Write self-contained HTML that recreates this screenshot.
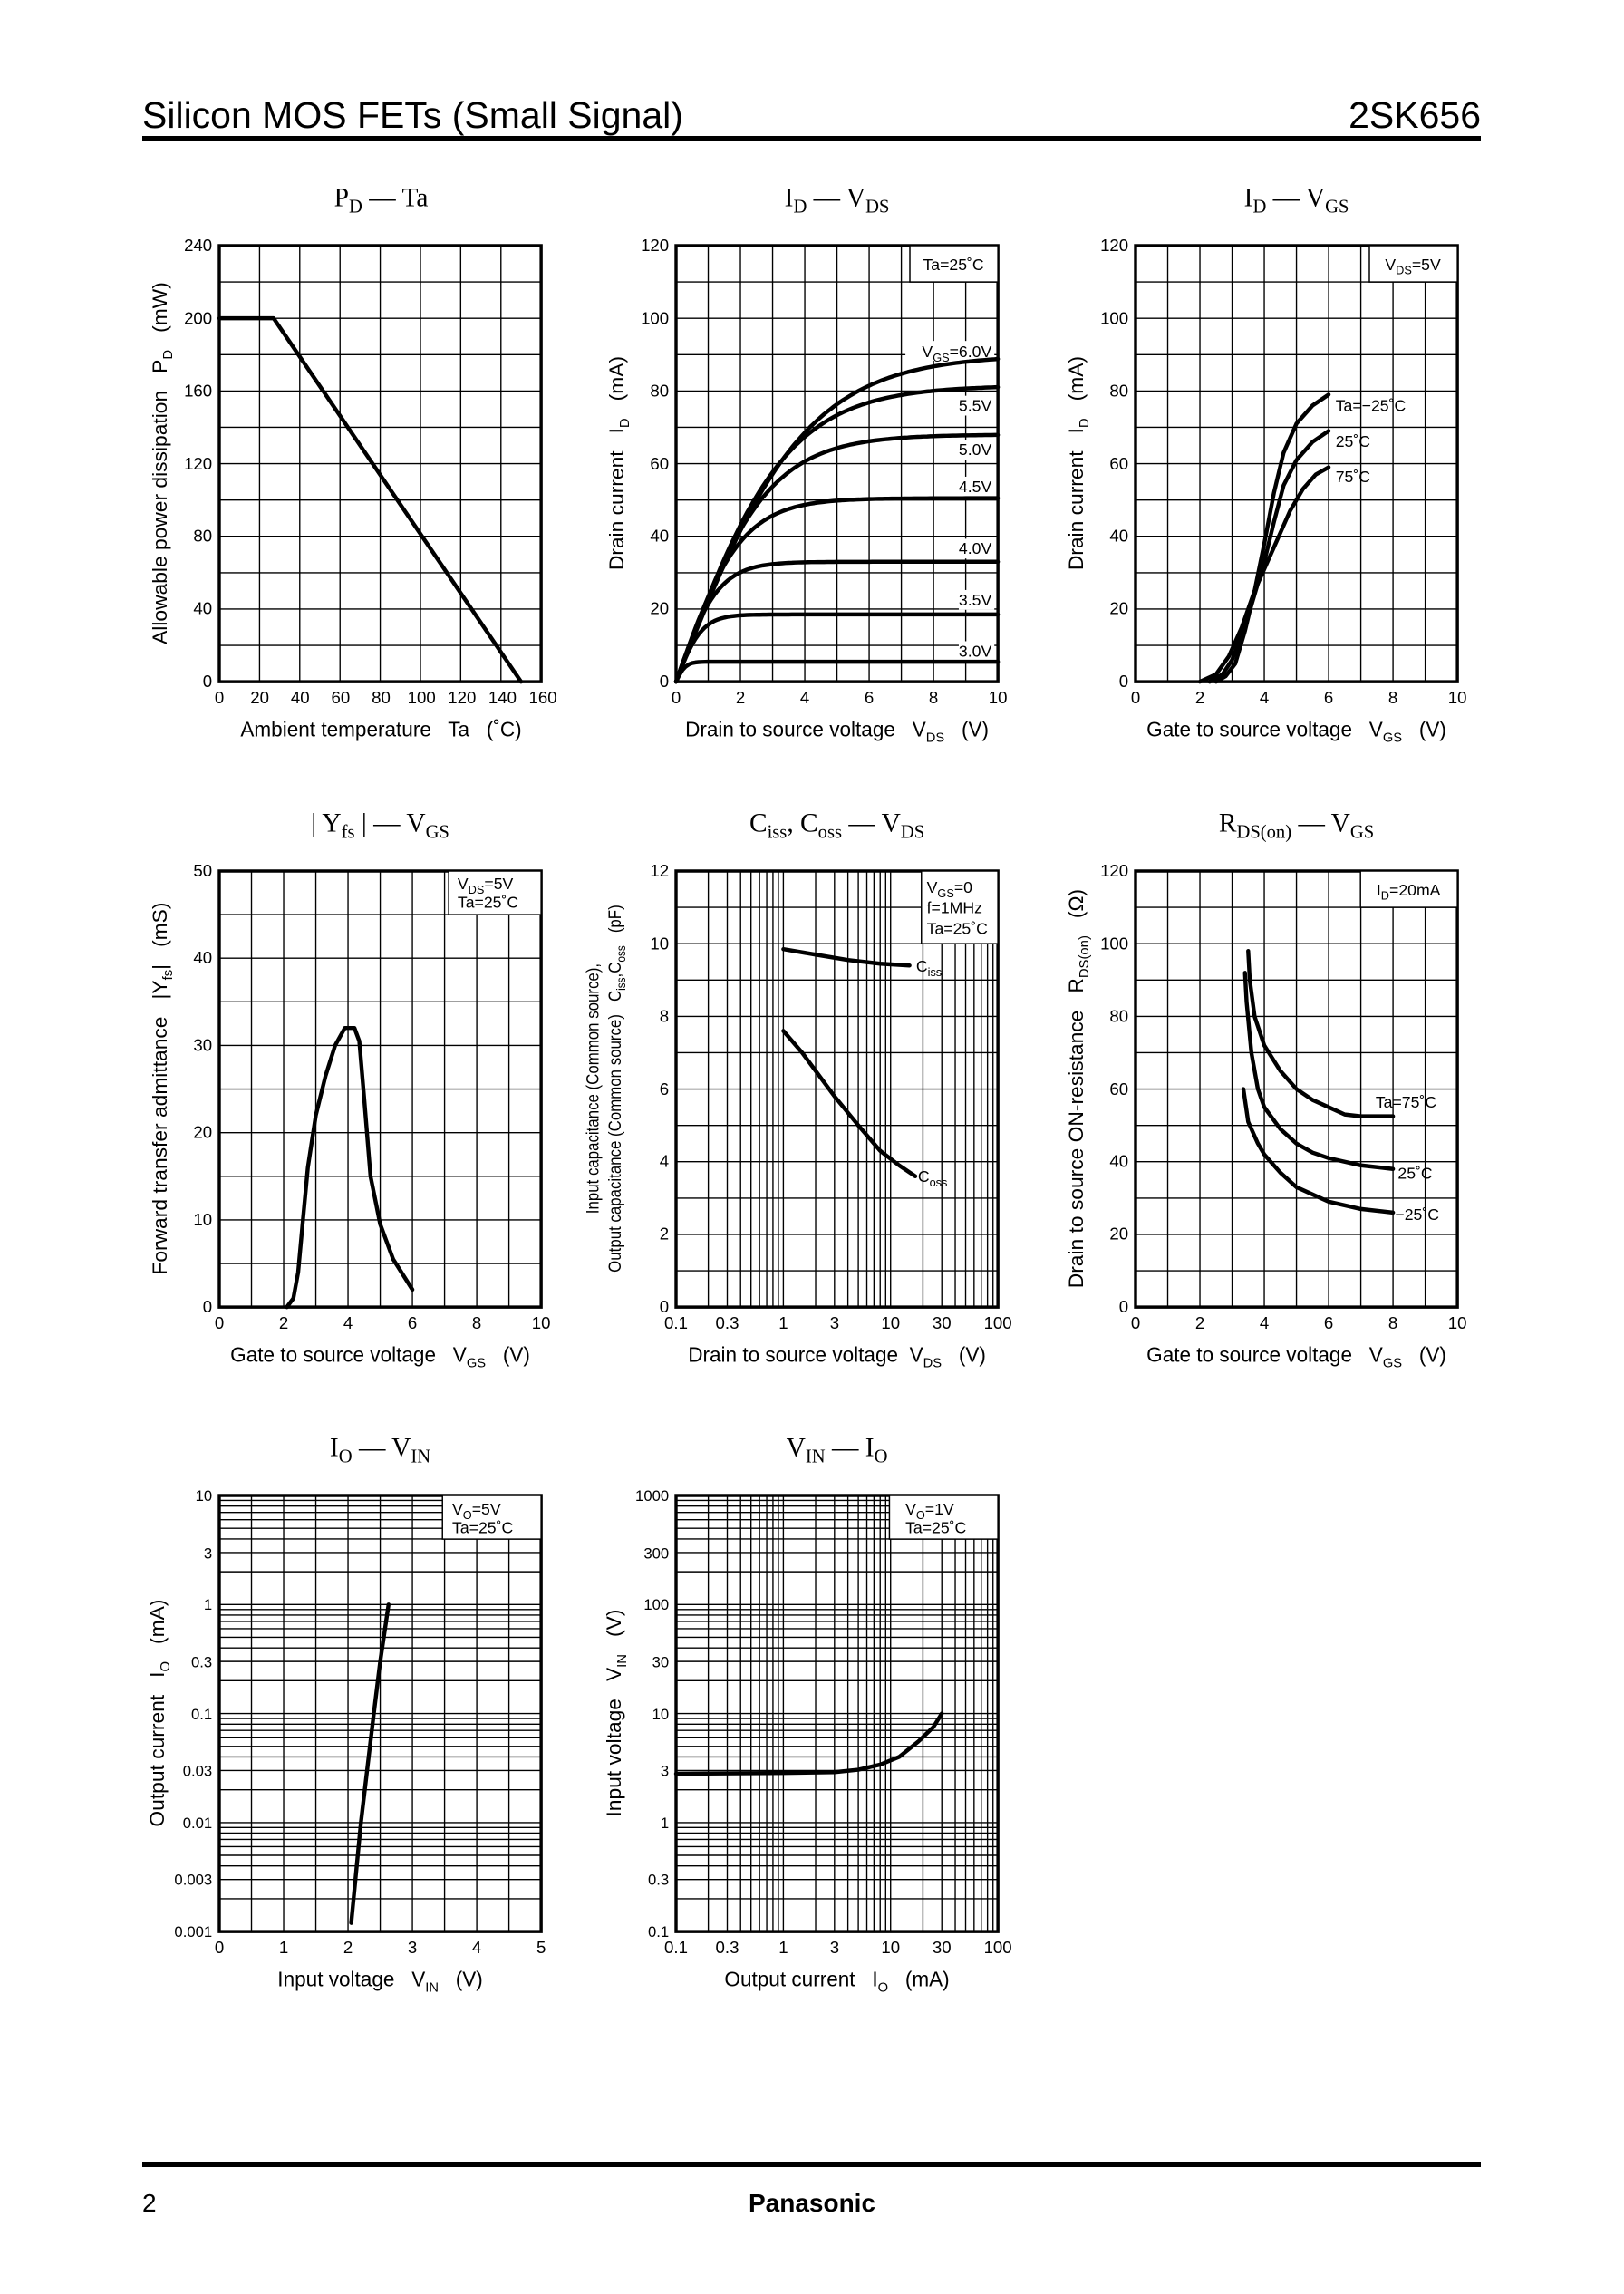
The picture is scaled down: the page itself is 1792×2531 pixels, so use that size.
<!DOCTYPE html>
<html><head><meta charset="utf-8"><style>
html,body{margin:0;padding:0;background:#fff}
svg{display:block}
.g path{fill:none;stroke:#000;stroke-linecap:butt}
.c path{fill:none;stroke:#000;stroke-width:4.5;stroke-linejoin:round;stroke-linecap:round}
text{font-family:"Liberation Sans",sans-serif;fill:#000}
.t{font-size:19px}
.ax{font-size:23px}
.ti{font-family:"Liberation Serif",serif;font-size:30px}
.in{font-size:18px}
.ib{fill:#fff;stroke:#000;stroke-width:1.5}
</style></head><body>
<svg width="1792" height="2531" viewBox="0 0 1792 2531" xmlns="http://www.w3.org/2000/svg">
<text x="157" y="141" style="font-size:41px">Silicon MOS FETs (Small Signal)</text>
<text x="1634" y="141" style="font-size:41px" text-anchor="end">2SK656</text>
<rect x="157" y="150" width="1477" height="6"/>
<rect x="157" y="2385" width="1477" height="6"/>
<text x="157" y="2440" style="font-size:28px">2</text>
<text x="896" y="2440" style="font-size:28px;font-weight:bold" text-anchor="middle">Panasonic</text>

<!-- Chart A -->
<g transform="translate(242,271) scale(0.981,0.992)">
<g id="gA" class="g"></g><g id="cA" class="c"></g>
<g class="t" text-anchor="end"><text x="-8" y="491">0</text><text x="-8" y="410">40</text><text x="-8" y="329">80</text><text x="-8" y="249">120</text><text x="-8" y="168">160</text><text x="-8" y="87">200</text><text x="-8" y="6">240</text></g>
<g class="t" text-anchor="middle"><text x="0" y="509">0</text><text x="45.5" y="509">20</text><text x="91" y="509">40</text><text x="136.5" y="509">60</text><text x="182" y="509">80</text><text x="227.5" y="509">100</text><text x="273" y="509">120</text><text x="318.5" y="509">140</text><text x="364" y="509">160</text></g>
<text class="ax" x="182" y="546" text-anchor="middle">Ambient temperature &#160; Ta &#160; (˚C)</text>
<text class="ax" transform="translate(-59,242) rotate(-90)" text-anchor="middle">Allowable power dissipation &#160; P<tspan font-size="15" dy="6">D</tspan><tspan dy="-6"> &#160; (mW)</tspan></text>
<text class="ti" x="182" y="-44" text-anchor="middle">P<tspan font-size="21" dy="7">D</tspan><tspan dy="-7"> — Ta</tspan></text>
</g>

<!-- Chart B -->
<g transform="translate(746,271) scale(0.981,0.992)">
<g id="gB" class="g"></g>
<rect class="ib" x="263" y="0" width="99" height="40.4"/><text class="in" x="312" y="27" text-anchor="middle">Ta=25˚C</text>
<g class="in" text-anchor="end">
<rect x="258" y="106" width="100" height="22" fill="#fff"/><text x="355" y="124">V<tspan font-size="13" dy="5">GS</tspan><tspan dy="-5">=6.0V</tspan></text>
<rect x="318" y="167" width="40" height="22" fill="#fff"/><text x="355" y="184">5.5V</text>
<rect x="318" y="216" width="40" height="22" fill="#fff"/><text x="355" y="233">5.0V</text>
<rect x="318" y="257" width="40" height="22" fill="#fff"/><text x="355" y="274">4.5V</text>
<rect x="318" y="326" width="40" height="22" fill="#fff"/><text x="355" y="343">4.0V</text>
<rect x="318" y="383" width="40" height="22" fill="#fff"/><text x="355" y="400">3.5V</text>
<rect x="318" y="440" width="40" height="22" fill="#fff"/><text x="355" y="457">3.0V</text>
</g>
<g id="cB" class="c"></g>
<g class="t" text-anchor="end"><text x="-8" y="491">0</text><text x="-8" y="410">20</text><text x="-8" y="329">40</text><text x="-8" y="249">60</text><text x="-8" y="168">80</text><text x="-8" y="87">100</text><text x="-8" y="6">120</text></g>
<g class="t" text-anchor="middle"><text x="0" y="509">0</text><text x="72.4" y="509">2</text><text x="144.8" y="509">4</text><text x="217.2" y="509">6</text><text x="289.6" y="509">8</text><text x="362" y="509">10</text></g>
<text class="ax" x="181" y="546" text-anchor="middle">Drain to source voltage &#160; V<tspan font-size="15" dy="6">DS</tspan><tspan dy="-6"> &#160; (V)</tspan></text>
<text class="ax" transform="translate(-59,242) rotate(-90)" text-anchor="middle">Drain current &#160; I<tspan font-size="15" dy="6">D</tspan><tspan dy="-6"> &#160; (mA)</tspan></text>
<text class="ti" x="181" y="-44" text-anchor="middle">I<tspan font-size="21" dy="7">D</tspan><tspan dy="-7"> — V</tspan><tspan font-size="21" dy="7">DS</tspan></text>
</g>

<!-- Chart C -->
<g transform="translate(1253,271) scale(0.981,0.992)">
<g id="gC" class="g"></g>
<rect class="ib" x="263" y="0" width="99" height="40.4"/><text class="in" x="312" y="27" text-anchor="middle">V<tspan font-size="13" dy="5">DS</tspan><tspan dy="-5">=5V</tspan></text>
<g id="cC" class="c"></g>
<g class="in"><text x="225" y="184">Ta=−25˚C</text><text x="225" y="224">25˚C</text><text x="225" y="263">75˚C</text></g>
<g class="t" text-anchor="end"><text x="-8" y="491">0</text><text x="-8" y="410">20</text><text x="-8" y="329">40</text><text x="-8" y="249">60</text><text x="-8" y="168">80</text><text x="-8" y="87">100</text><text x="-8" y="6">120</text></g>
<g class="t" text-anchor="middle"><text x="0" y="509">0</text><text x="72.4" y="509">2</text><text x="144.8" y="509">4</text><text x="217.2" y="509">6</text><text x="289.6" y="509">8</text><text x="362" y="509">10</text></g>
<text class="ax" x="181" y="546" text-anchor="middle">Gate to source voltage &#160; V<tspan font-size="15" dy="6">GS</tspan><tspan dy="-6"> &#160; (V)</tspan></text>
<text class="ax" transform="translate(-59,242) rotate(-90)" text-anchor="middle">Drain current &#160; I<tspan font-size="15" dy="6">D</tspan><tspan dy="-6"> &#160; (mA)</tspan></text>
<text class="ti" x="181" y="-44" text-anchor="middle">I<tspan font-size="21" dy="7">D</tspan><tspan dy="-7"> — V</tspan><tspan font-size="21" dy="7">GS</tspan></text>
</g>

<!-- Chart D -->
<g transform="translate(242,961) scale(0.981,0.992)">
<g id="gD" class="g"></g>
<rect class="ib" x="258" y="0" width="104" height="48.5"/><text class="in" x="268" y="20">V<tspan font-size="13" dy="5">DS</tspan><tspan dy="-5">=5V</tspan></text><text class="in" x="268" y="41">Ta=25˚C</text>
<g id="cD" class="c"></g>
<g class="t" text-anchor="end"><text x="-8" y="491">0</text><text x="-8" y="394">10</text><text x="-8" y="297">20</text><text x="-8" y="200">30</text><text x="-8" y="103">40</text><text x="-8" y="6">50</text></g>
<g class="t" text-anchor="middle"><text x="0" y="509">0</text><text x="72.4" y="509">2</text><text x="144.8" y="509">4</text><text x="217.2" y="509">6</text><text x="289.6" y="509">8</text><text x="362" y="509">10</text></g>
<text class="ax" x="181" y="546" text-anchor="middle">Gate to source voltage &#160; V<tspan font-size="15" dy="6">GS</tspan><tspan dy="-6"> &#160; (V)</tspan></text>
<text class="ax" transform="translate(-59,242) rotate(-90)" text-anchor="middle">Forward transfer admittance &#160; |Y<tspan font-size="15" dy="6">fs</tspan><tspan dy="-6">| &#160; (mS)</tspan></text>
<text class="ti" x="181" y="-44" text-anchor="middle">| Y<tspan font-size="21" dy="7">fs</tspan><tspan dy="-7"> | — V</tspan><tspan font-size="21" dy="7">GS</tspan></text>
</g>

<!-- Chart E -->
<g transform="translate(746,961) scale(0.981,0.992)">
<g id="gE" class="g"></g>
<rect class="ib" x="276" y="0" width="86" height="80.8"/>
<g class="in"><text x="282" y="24">V<tspan font-size="13" dy="5">GS</tspan><tspan dy="-5">=0</tspan></text><text x="282" y="47">f=1MHz</text><text x="282" y="70">Ta=25˚C</text></g>
<g id="cE" class="c"></g>
<g class="in"><text x="270" y="112">C<tspan font-size="13" dy="5">iss</tspan></text><text x="272" y="346">C<tspan font-size="13" dy="5">oss</tspan></text></g>
<g class="t" text-anchor="end"><text x="-8" y="491">0</text><text x="-8" y="410">2</text><text x="-8" y="329">4</text><text x="-8" y="249">6</text><text x="-8" y="168">8</text><text x="-8" y="87">10</text><text x="-8" y="6">12</text></g>
<g class="t" text-anchor="middle"><text x="0" y="509">0.1</text><text x="57.6" y="509">0.3</text><text x="120.7" y="509">1</text><text x="178.3" y="509">3</text><text x="241.3" y="509">10</text><text x="298.9" y="509">30</text><text x="362" y="509">100</text></g>
<text class="ax" x="181" y="546" text-anchor="middle">Drain to source voltage &#160;V<tspan font-size="15" dy="6">DS</tspan><tspan dy="-6"> &#160; (V)</tspan></text>
<text class="ax" style="font-size:20px" transform="translate(-87,242) rotate(-90) scale(0.85,1)" text-anchor="middle">Input capacitance (Common source),</text>
<text class="ax" style="font-size:20px" transform="translate(-62,242) rotate(-90) scale(0.85,1)" text-anchor="middle">Output capacitance (Common source) &#160; C<tspan font-size="14" dy="5">iss</tspan><tspan dy="-5">,C</tspan><tspan font-size="14" dy="5">oss</tspan><tspan dy="-5"> &#160; (pF)</tspan></text>
<text class="ti" x="181" y="-44" text-anchor="middle">C<tspan font-size="21" dy="7">iss</tspan><tspan dy="-7">, C</tspan><tspan font-size="21" dy="7">oss</tspan><tspan dy="-7"> — V</tspan><tspan font-size="21" dy="7">DS</tspan></text>
</g>

<!-- Chart F -->
<g transform="translate(1253,961) scale(0.981,0.992)">
<g id="gF" class="g"></g>
<rect class="ib" x="253" y="0" width="109" height="40.4"/><text class="in" x="307" y="27" text-anchor="middle">I<tspan font-size="13" dy="5">D</tspan><tspan dy="-5">=20mA</tspan></text>
<g id="cF" class="c"></g>
<g class="in"><text x="270" y="263">Ta=75˚C</text><text x="295" y="342">25˚C</text><text x="292" y="388">−25˚C</text></g>
<g class="t" text-anchor="end"><text x="-8" y="491">0</text><text x="-8" y="410">20</text><text x="-8" y="329">40</text><text x="-8" y="249">60</text><text x="-8" y="168">80</text><text x="-8" y="87">100</text><text x="-8" y="6">120</text></g>
<g class="t" text-anchor="middle"><text x="0" y="509">0</text><text x="72.4" y="509">2</text><text x="144.8" y="509">4</text><text x="217.2" y="509">6</text><text x="289.6" y="509">8</text><text x="362" y="509">10</text></g>
<text class="ax" x="181" y="546" text-anchor="middle">Gate to source voltage &#160; V<tspan font-size="15" dy="6">GS</tspan><tspan dy="-6"> &#160; (V)</tspan></text>
<text class="ax" transform="translate(-59,242) rotate(-90)" text-anchor="middle">Drain to source ON-resistance &#160; R<tspan font-size="15" dy="6">DS(on)</tspan><tspan dy="-6"> &#160; (Ω)</tspan></text>
<text class="ti" x="181" y="-44" text-anchor="middle">R<tspan font-size="21" dy="7">DS(on)</tspan><tspan dy="-7"> — V</tspan><tspan font-size="21" dy="7">GS</tspan></text>
</g>

<!-- Chart G -->
<g transform="translate(242,1650) scale(0.981,0.992)">
<g id="gG" class="g"></g>
<rect class="ib" x="251" y="0" width="111" height="48.5"/><text class="in" x="262" y="21">V<tspan font-size="13" dy="5">O</tspan><tspan dy="-5">=5V</tspan></text><text class="in" x="262" y="42">Ta=25˚C</text>
<g id="cG" class="c"></g>
<g class="t" text-anchor="end" style="font-size:17px"><text x="-8" y="491">0.001</text><text x="-8" y="433">0.003</text><text x="-8" y="370">0.01</text><text x="-8" y="312">0.03</text><text x="-8" y="249">0.1</text><text x="-8" y="191">0.3</text><text x="-8" y="127">1</text><text x="-8" y="70">3</text><text x="-8" y="6">10</text></g>
<g class="t" text-anchor="middle"><text x="0" y="509">0</text><text x="72.4" y="509">1</text><text x="144.8" y="509">2</text><text x="217.2" y="509">3</text><text x="289.6" y="509">4</text><text x="362" y="509">5</text></g>
<text class="ax" x="181" y="546" text-anchor="middle">Input voltage &#160; V<tspan font-size="15" dy="6">IN</tspan><tspan dy="-6"> &#160; (V)</tspan></text>
<text class="ax" transform="translate(-62,242) rotate(-90)" text-anchor="middle">Output current &#160; I<tspan font-size="15" dy="6">O</tspan><tspan dy="-6"> &#160; (mA)</tspan></text>
<text class="ti" x="181" y="-44" text-anchor="middle">I<tspan font-size="21" dy="7">O</tspan><tspan dy="-7"> — V</tspan><tspan font-size="21" dy="7">IN</tspan></text>
</g>

<!-- Chart H -->
<g transform="translate(746,1650) scale(0.981,0.992)">
<g id="gH" class="g"></g>
<rect class="ib" x="240" y="0" width="122" height="48.5"/><text class="in" x="258" y="21">V<tspan font-size="13" dy="5">O</tspan><tspan dy="-5">=1V</tspan></text><text class="in" x="258" y="42">Ta=25˚C</text>
<g id="cH" class="c"></g>
<g class="t" text-anchor="end" style="font-size:17px"><text x="-8" y="491">0.1</text><text x="-8" y="433">0.3</text><text x="-8" y="370">1</text><text x="-8" y="312">3</text><text x="-8" y="249">10</text><text x="-8" y="191">30</text><text x="-8" y="127">100</text><text x="-8" y="70">300</text><text x="-8" y="6">1000</text></g>
<g class="t" text-anchor="middle"><text x="0" y="509">0.1</text><text x="57.6" y="509">0.3</text><text x="120.7" y="509">1</text><text x="178.3" y="509">3</text><text x="241.3" y="509">10</text><text x="298.9" y="509">30</text><text x="362" y="509">100</text></g>
<text class="ax" x="181" y="546" text-anchor="middle">Output current &#160; I<tspan font-size="15" dy="6">O</tspan><tspan dy="-6"> &#160; (mA)</tspan></text>
<text class="ax" transform="translate(-62,242) rotate(-90)" text-anchor="middle">Input voltage &#160; V<tspan font-size="15" dy="6">IN</tspan><tspan dy="-6"> &#160; (V)</tspan></text>
<text class="ti" x="181" y="-44" text-anchor="middle">V<tspan font-size="21" dy="7">IN</tspan><tspan dy="-7"> — I</tspan><tspan font-size="21" dy="7">O</tspan></text>
</g>
</svg>
<script>
(function(){
var NS='http://www.w3.org/2000/svg',W=362,H=485;
function P(id,d,w){var p=document.createElementNS(NS,'path');p.setAttribute('d',d);if(w)p.setAttribute('stroke-width',w);document.getElementById(id).appendChild(p);}
function lin(n){var a=[];for(var i=1;i<n;i++)a.push(i/n);return a;}
function lg(dec){var a=[];for(var d=0;d<dec;d++)for(var k=1;k<10;k++){var v=(d+Math.log10(k))/dec;if(v>0)a.push(v);}return a;}
function grid(id,xs,ys){var d='';xs.forEach(function(f){d+='M'+(f*W).toFixed(1)+' 0V'+H;});ys.forEach(function(f){d+='M0 '+(H-f*H).toFixed(1)+'H'+W;});P(id,d,1.4);P(id,'M0 0H'+W+'V'+H+'H0Z',3.5);}
grid('gA',lin(8),lin(12));grid('gB',lin(10),lin(12));grid('gC',lin(10),lin(12));
grid('gD',lin(10),lin(10));grid('gE',lg(3),lin(12));grid('gF',lin(10),lin(12));
grid('gG',lin(10),lg(4));grid('gH',lg(3),lg(4));
function cv(id,pts,fx,fy){var d='';pts.forEach(function(p,i){d+=(i?'L':'M')+fx(p[0]).toFixed(1)+' '+fy(p[1]).toFixed(1);});P(id,d);}
function lx(a,b){return function(v){return (v-a)/(b-a)*W;};}
function ly(a,b){return function(v){return H-(v-a)/(b-a)*H;};}
function gx(a,dec){return function(v){return (Math.log10(v)-Math.log10(a))/dec*W;};}
function gy(a,dec){return function(v){return H-(Math.log10(v)-Math.log10(a))/dec*H;};}
cv('cA',[[0,200],[27,200],[150,0]],lx(0,160),ly(0,240));
[[5.5,0.3],[18.5,0.8],[33,1.3],[50.5,2.0],[68,2.8],[81.5,3.4],[90,4.0]].forEach(function(c){var pts=[];for(var v=0;v<=10.001;v+=0.1)pts.push([v,c[0]*Math.tanh(v/c[1])]);cv('cB',pts,lx(0,10),ly(0,120));});
var fxC=lx(0,10),fyC=ly(0,120);
cv('cC',[[2.5,0],[2.8,1.5],[3.1,5],[3.4,14],[3.7,25],[4,38],[4.3,52],[4.6,63],[5,71],[5.5,76],[6,79]],fxC,fyC);
cv('cC',[[2.3,0],[2.7,2],[3,6],[3.3,13],[3.6,21],[4,33],[4.3,44],[4.6,54],[5,61],[5.5,66],[6,69]],fxC,fyC);
cv('cC',[[2,0],[2.5,2],[2.9,7],[3.3,15],[3.7,25],[4,31],[4.4,39],[4.8,47],[5.2,53],[5.6,57],[6,59]],fxC,fyC);
cv('cD',[[2.1,0],[2.3,1],[2.45,4],[2.6,10],[2.75,16],[3,22],[3.3,26.5],[3.6,30],[3.9,32],[4.2,32],[4.35,30.5],[4.5,24],[4.7,15],[5,9.5],[5.4,5.5],[6,2]],lx(0,10),ly(0,50));
var fxE=gx(0.1,3),fyE=ly(0,12);
cv('cE',[[1,9.85],[2,9.7],[4,9.55],[8,9.45],[15,9.4]],fxE,fyE);
cv('cE',[[1,7.6],[1.5,7],[2,6.5],[3,5.8],[5,5],[8,4.3],[12,3.9],[17,3.6]],fxE,fyE);
var fxF=lx(0,10),fyF=ly(0,120);
cv('cF',[[3.5,98],[3.55,90],[3.7,80],[4,72],[4.5,65],[5,60],[5.5,57],[6,55],[6.5,53],[7,52.5],[8,52.5]],fxF,fyF);
cv('cF',[[3.4,92],[3.45,84],[3.6,70],[3.8,60],[4,55],[4.5,49],[5,45],[5.5,42.5],[6,41],[7,39],[8,38]],fxF,fyF);
cv('cF',[[3.35,60],[3.5,51],[3.8,45],[4,42],[4.5,37],[5,33],[5.5,31],[6,29],[7,27],[8,26]],fxF,fyF);
cv('cG',[[2.05,0.0012],[2.2,0.01],[2.4,0.1],[2.5,0.3],[2.63,1]],lx(0,5),gy(0.001,4));
cv('cH',[[0.1,2.8],[1,2.85],[3,2.9],[5,3.05],[8,3.4],[12,4],[18,5.5],[25,7.5],[30,10]],gx(0.1,3),gy(0.1,4));
})();
</script>
</body></html>
